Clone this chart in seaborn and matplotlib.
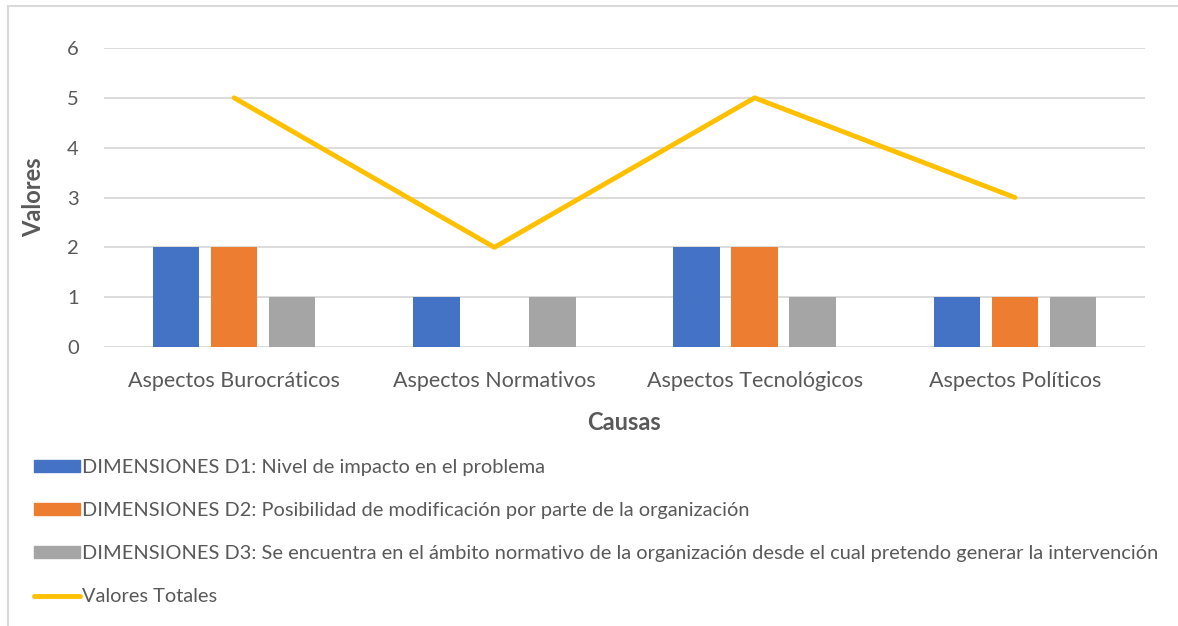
import matplotlib
matplotlib.use("Agg")
import matplotlib.pyplot as plt
import matplotlib.patches as mpatches
import matplotlib.lines as mlines
import pandas as pd
import seaborn as sns

# Datos
causas = ["Aspectos Burocráticos", "Aspectos Normativos", "Aspectos Tecnológicos", "Aspectos Políticos"]
d1 = [2, 1, 2, 1]
d2 = [2, 0, 2, 1]
d3 = [1, 1, 1, 1]
totales = [5, 2, 5, 3]

series = [
    "DIMENSIONES D1: Nivel de impacto en el problema",
    "DIMENSIONES D2: Posibilidad de modificación por parte de la organización",
    "DIMENSIONES D3: Se encuentra en el ámbito normativo de la organización desde el cual pretendo generar la intervención",
]
serie_total = "Valores Totales"
colores = ["#4472C4", "#ED7D31", "#A5A5A5"]
color_total = "#FFC000"

df = pd.DataFrame({"Causa": causas * 3,
                   "Serie": [series[0]] * 4 + [series[1]] * 4 + [series[2]] * 4,
                   "Valor": d1 + d2 + d3})
df_tot = pd.DataFrame({"Causa": causas, "Total": totales})

sns.set_theme(style="white")
plt.rcParams["font.family"] = ["Lato", "DejaVu Sans"]

fig = plt.figure(figsize=(11.78, 6.26), dpi=100)
ax = fig.add_axes([104 / 1178, 1 - 347 / 626, (1145 - 104) / 1178, (347 - 48) / 626])

sns.barplot(data=df, x="Causa", y="Valor", hue="Serie", palette=colores,
            width=0.67, gap=0.2, ax=ax, legend=False, saturation=1, linewidth=0)
sns.lineplot(data=df_tot, x="Causa", y="Total", color=color_total,
             linewidth=3.5, ax=ax, sort=False)

ax.set_xlim(-0.5, 3.5)
ax.set_ylim(0, 6)
ax.set_yticks(range(0, 7))
ax.grid(axis="y", color="#D9D9D9", linewidth=1.3)
ax.set_axisbelow(True)
for s in ax.spines.values():
    s.set_visible(False)
ax.tick_params(axis="both", length=0, colors="#595959")
ax.tick_params(axis="x", labelsize=15.5, pad=17)
ax.tick_params(axis="y", labelsize=14.5, pad=18)
ax.set_xlabel("Causas", fontsize=17, fontweight="bold", color="#595959", labelpad=15)
ax.set_ylabel("Valores", fontsize=17, fontweight="bold", color="#595959", labelpad=16)

# Leyenda
handles = [mpatches.Patch(color=c) for c in colores]
handles.append(mlines.Line2D([], [], color=color_total, linewidth=3.5))
fig.legend(handles, series + [serie_total], loc="upper left",
           bbox_to_anchor=(26 / 1178, 1 - 451 / 626), frameon=False,
           fontsize=14.4, labelcolor="#595959", handlelength=2.3, handleheight=0.5,
           handletextpad=0.12, labelspacing=1.3, borderaxespad=0)

# Marco
fig.add_artist(mlines.Line2D([8 / 1178, 8 / 1178], [0, 1 - 6 / 626], color="#D9D9D9", linewidth=1.5))
fig.add_artist(mlines.Line2D([8 / 1178, 1], [1 - 6 / 626, 1 - 6 / 626], color="#D9D9D9", linewidth=1.5))

fig.savefig("out.png", dpi=100)
